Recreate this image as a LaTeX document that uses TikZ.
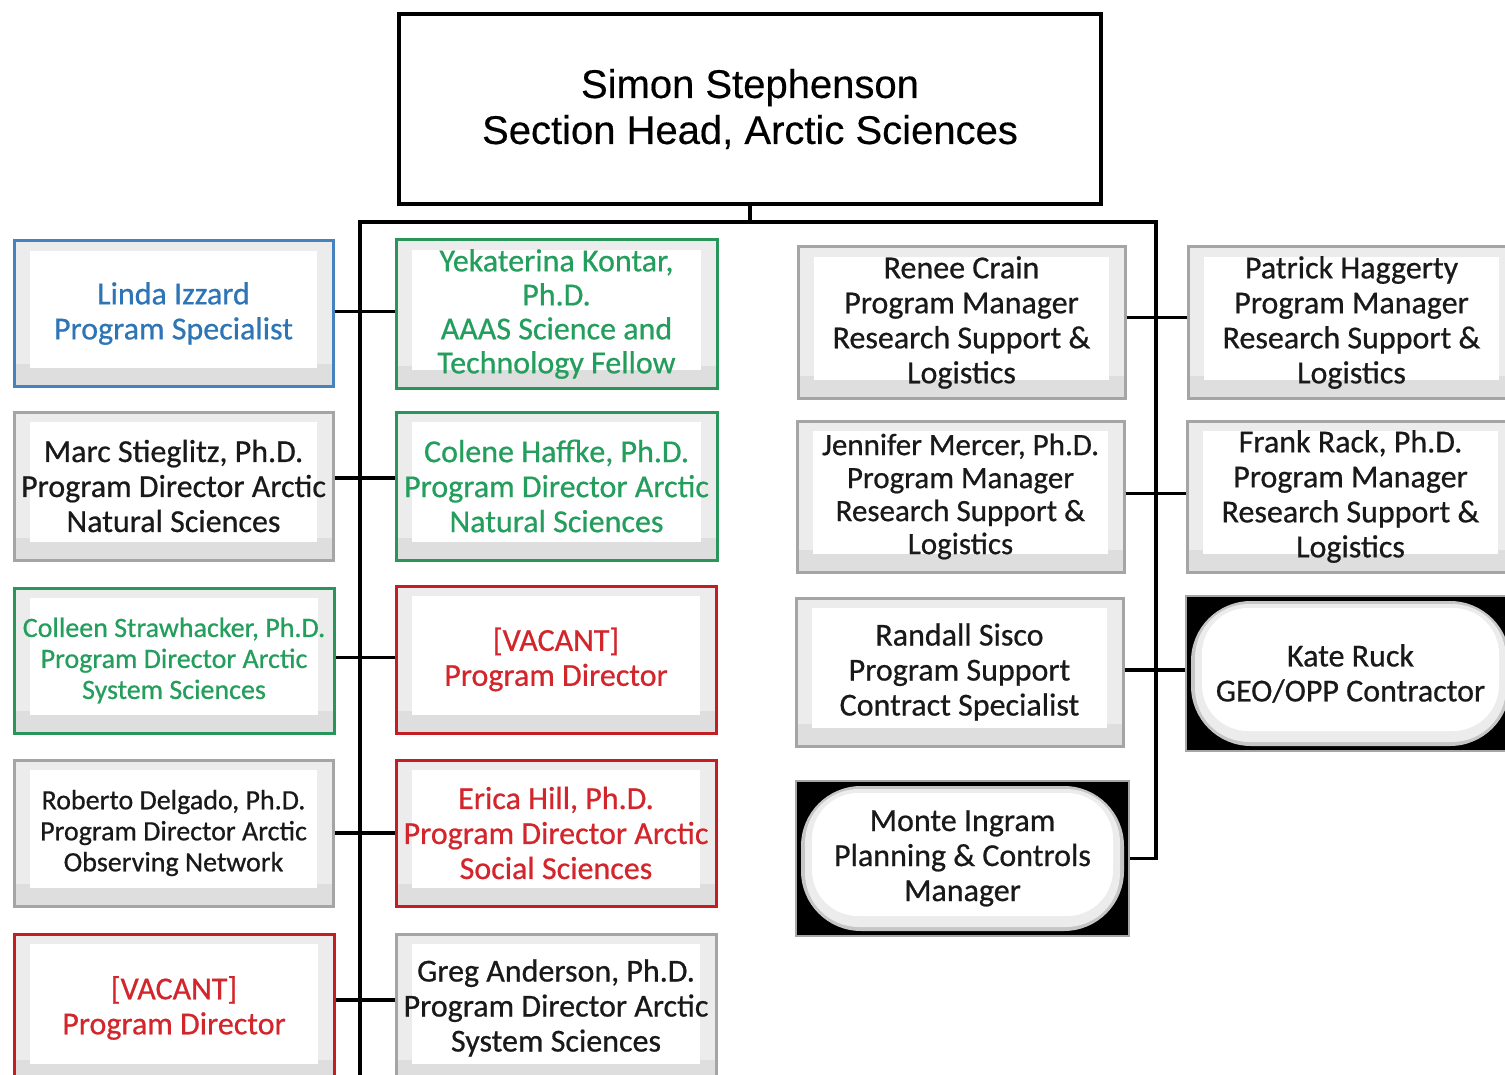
\documentclass[tikz,border=0pt]{standalone}
\usepackage{fontspec}
\setmainfont{Carlito}[BoldFont=Carlito, BoldFeatures={FakeBold=0.6}]
\newfontfamily\arialf{Liberation Sans}[BoldFont=Liberation Sans, BoldFeatures={FakeBold=0.4}]
\definecolor{cblue}{RGB}{46,117,182}
\definecolor{cbluebd}{RGB}{70,130,190}
\definecolor{cgreen}{RGB}{36,158,92}
\definecolor{cgreenbd}{RGB}{40,150,90}
\definecolor{cred}{RGB}{210,38,44}
\definecolor{credbd}{RGB}{195,30,36}
\definecolor{bevel}{RGB}{236,236,236}
\definecolor{bevelb}{RGB}{222,222,222}
\definecolor{gborder}{RGB}{165,165,165}
\definecolor{tblack}{RGB}{25,25,25}
\tikzset{
  conn/.style={line width=3.5pt, black},
  sz/.style 2 args={minimum width=#1pt, minimum height=#2pt},
  box/.style={rectangle, line width=3pt, draw=gborder, fill=bevel, align=center,
    inner sep=0pt, text=tblack, font=\fontsize{32}{35}\selectfont\bfseries,
    path picture={
      \fill[bevelb] ([shift={(0pt,22pt)}]path picture bounding box.south west)
        rectangle (path picture bounding box.south east);
      \fill[white] ([shift={(16pt,-10pt)}]path picture bounding box.north west)
      rectangle ([shift={(-16pt,18pt)}]path picture bounding box.south east);}},
  bluebox/.style={box, draw=cbluebd, text=cblue},
  greenbox/.style={box, draw=cgreenbd, text=cgreen},
  redbox/.style={box, draw=credbd, text=cred},
  pillbox/.style={rectangle, fill=black, draw=gray!70, line width=2pt, align=center,
    inner sep=0pt, text=tblack, font=\fontsize{32}{35}\selectfont\bfseries,
    path picture={
      \fill[gray!45, rounded corners=60pt] ([shift={(5pt,-5pt)}]path picture bounding box.north west)
        rectangle ([shift={(-5pt,5pt)}]path picture bounding box.south east);
      \fill[gray!15, rounded corners=54pt] ([shift={(9pt,-8pt)}]path picture bounding box.north west)
        rectangle ([shift={(-9pt,9pt)}]path picture bounding box.south east);
      \fill[white, rounded corners=46pt] ([shift={(16pt,-12pt)}]path picture bounding box.north west)
        rectangle ([shift={(-16pt,20pt)}]path picture bounding box.south east);}},
  small/.style={font=\fontsize{28}{31}\selectfont\bfseries},
  topbox/.style={rectangle, draw=black, line width=3.5pt, fill=white, align=center,
    inner sep=0pt, font=\arialf\fontsize{40}{46}\selectfont\bfseries, text=black}
}
\begin{document}
\begin{tikzpicture}[x=1pt,y=-1pt]
\clip (0,0) rectangle (1505,1075);
\fill[white] (0,0) rectangle (1505,1075);

% top
\node[topbox, sz={702}{190}] (tb) at (750,109) {Simon Stephenson\\Section Head, Arctic Sciences};

% column A
\node[bluebox, sz={319}{145}] (linda) at (173.5,313.5) {Linda Izzard\\Program Specialist};
\node[box, sz={319}{148}] (marc) at (173.5,486) {Marc Stieglitz, Ph.D.\\Program Director Arctic\\Natural Sciences};
\node[greenbox, small, sz={320}{145}] (colleen) at (174,660.5) {Colleen Strawhacker, Ph.D.\\Program Director Arctic\\System Sciences};
\node[box, small, sz={319}{146}] (roberto) at (173.5,833) {Roberto Delgado, Ph.D.\\Program Director Arctic\\Observing Network};
\node[redbox, sz={320}{148}] (vacl) at (174,1008) {[VACANT]\\Program Director};

% column B
\node[greenbox, font=\fontsize{32}{34}\selectfont\bfseries, sz={321}{148}] (yek) at (556.5,314) {Yekaterina Kontar,\\Ph.D.\\AAAS Science and\\Technology Fellow};
\node[greenbox, sz={321}{148}] (colene) at (556.5,486) {Colene Haffke, Ph.D.\\Program Director Arctic\\Natural Sciences};
\node[redbox, sz={320}{147}] (vacb) at (556,659.5) {[VACANT]\\Program Director};
\node[redbox, sz={320}{146}] (erica) at (556,833) {Erica Hill, Ph.D.\\Program Director Arctic\\Social Sciences};
\node[box, sz={320}{148}] (greg) at (556,1008) {Greg Anderson, Ph.D.\\Program Director Arctic\\System Sciences};

% column C
\node[box, sz={327}{151}] (renee) at (961.5,322.5) {Renee Crain\\Program Manager\\Research Support \&\\Logistics};
\node[box, font=\fontsize{31}{33}\selectfont\bfseries, sz={327}{151}] (jen) at (960.5,496.5) {Jennifer Mercer, Ph.D.\\Program Manager\\Research Support \&\\Logistics};
\node[box, sz={327}{148}] (randall) at (959.5,672) {Randall Sisco\\Program Support\\Contract Specialist};
\node[pillbox, sz={333}{155}] (monte) at (962.5,858.5) {Monte Ingram\\Planning \& Controls\\Manager};

% column D
\node[box, sz={327}{151}] (patrick) at (1351.5,322.5) {Patrick Haggerty\\Program Manager\\Research Support \&\\Logistics};
\node[box, sz={327}{151}] (frank) at (1350.5,496.5) {Frank Rack, Ph.D.\\Program Manager\\Research Support \&\\Logistics};
\node[pillbox, sz={329}{155}] (kate) at (1350.5,673.5) {Kate Ruck\\GEO/OPP Contractor};

% trunks
\coordinate (jl) at (360,222);
\coordinate (jr) at (1156,222);
\coordinate (lb) at (360,1080);
\draw[conn] (tb.south) -- (tb.south |- jl);
\draw[conn, line cap=rect] (jl) -- (jr);
\draw[conn] (jl) -- (lb);
\draw[conn] (jr) |- (monte.east);

% branches
\draw[conn] ([yshift=2pt]linda.east) -- ([yshift=2pt]linda.east -| yek.west);
\draw[conn] ([yshift=8pt]marc.east) -- ([yshift=8pt]marc.east -| colene.west);
\draw[conn] ([yshift=3pt]colleen.east) -- ([yshift=3pt]colleen.east -| vacb.west);
\draw[conn] (roberto.east) -- (roberto.east -| erica.west);
\draw[conn] ([yshift=8pt]vacl.east) -- ([yshift=8pt]vacl.east -| greg.west);
\draw[conn] ([yshift=5pt]renee.east) -- ([yshift=5pt]renee.east -| patrick.west);
\draw[conn] ([yshift=3pt]jen.east) -- ([yshift=3pt]jen.east -| frank.west);
\draw[conn] ([yshift=2pt]randall.east) -- ([yshift=2pt]randall.east -| kate.west);
\end{tikzpicture}
\end{document}
